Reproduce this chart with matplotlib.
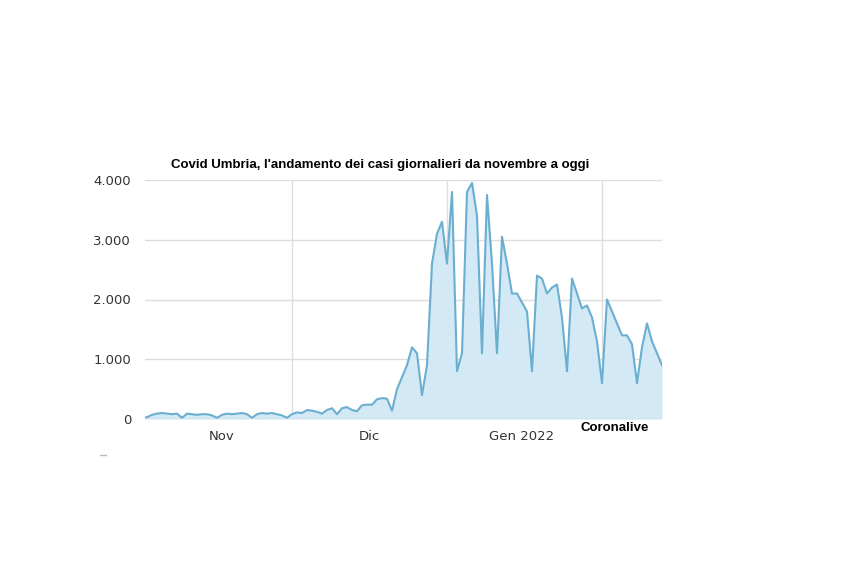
import matplotlib
matplotlib.use("Agg")
import matplotlib.pyplot as plt
import numpy as np

# daily cases from 1 Nov 2021
cases = [20,30,70,90,100,90,80,90,20,90,80,70,80,80,60,20,70,90,80,90,100,80,20,80,100,90,100,80,60,20,
         80,110,100,150,140,120,90,150,180,80,180,200,150,130,230,240,240,330,350,340,140,500,700,900,1200,1100,400,900,2600,3100,3300,
         2600,3800,800,1100,3800,3950,3400,1100,3750,2600,1100,3050,2600,2100,2100,1950,1800,800,2400,2350,2100,2200,2250,1700,800,2350,2100,1850,1900,1700,1300,
         600,2000,1800,1600,1400,1400,1250,600,1200,1600,1300,1100,900]
month_lines = [30, 61, 92]
month_label_pos = [16, 45.5, 76]
month_labels = ["Nov", "Dic", "Gen 2022"]
yticks = [0, 1000, 2000, 3000, 4000]
ytick_labels = ["0", "1.000", "2.000", "3.000", "4.000"]

fig = plt.figure(figsize=(8.43, 5.62), dpi=100)
ax = fig.add_axes([145/843, 1-419/562, (662-145)/843, (419-180)/562])
x = np.arange(len(cases))
ax.fill_between(x, cases, color="#d3e9f5", lw=0)
ax.plot(x, cases, color="#6aafcf", lw=1.5)
ax.set_xlim(0.6, len(cases)-1)
ax.set_ylim(0, 4000)
for m in month_lines:
    ax.axvline(m, color="#dddddd", lw=1, zorder=0)
ax.set_yticks(yticks)
ax.set_yticklabels(ytick_labels)
ax.yaxis.grid(True, color="#dddddd", lw=1)
ax.set_axisbelow(True)
ax.set_xticks(month_label_pos)
ax.set_xticklabels(month_labels)
ax.tick_params(length=0, labelsize=9.5, colors="#333333", pad=8)
ax.tick_params(axis="y", pad=10)
for s in ax.spines.values():
    s.set_visible(False)
ax.axhline(0, color="#cccccc", lw=1)
fig.text(380/843, 1-165/562, "Covid Umbria, l'andamento dei casi giornalieri da novembre a oggi",
         ha="center", va="center", fontsize=9.5, fontweight="bold", family="Liberation Sans")
fig.text(615/843, 1-428/562, "Coronalive", ha="center", va="center", fontsize=9.5,
         fontweight="bold", family="Liberation Sans")
fig.add_artist(plt.Line2D([100/843, 106/843], [1-455/562]*2, color="#bbbbbb", lw=1))
fig.savefig("out.png", dpi=100)
